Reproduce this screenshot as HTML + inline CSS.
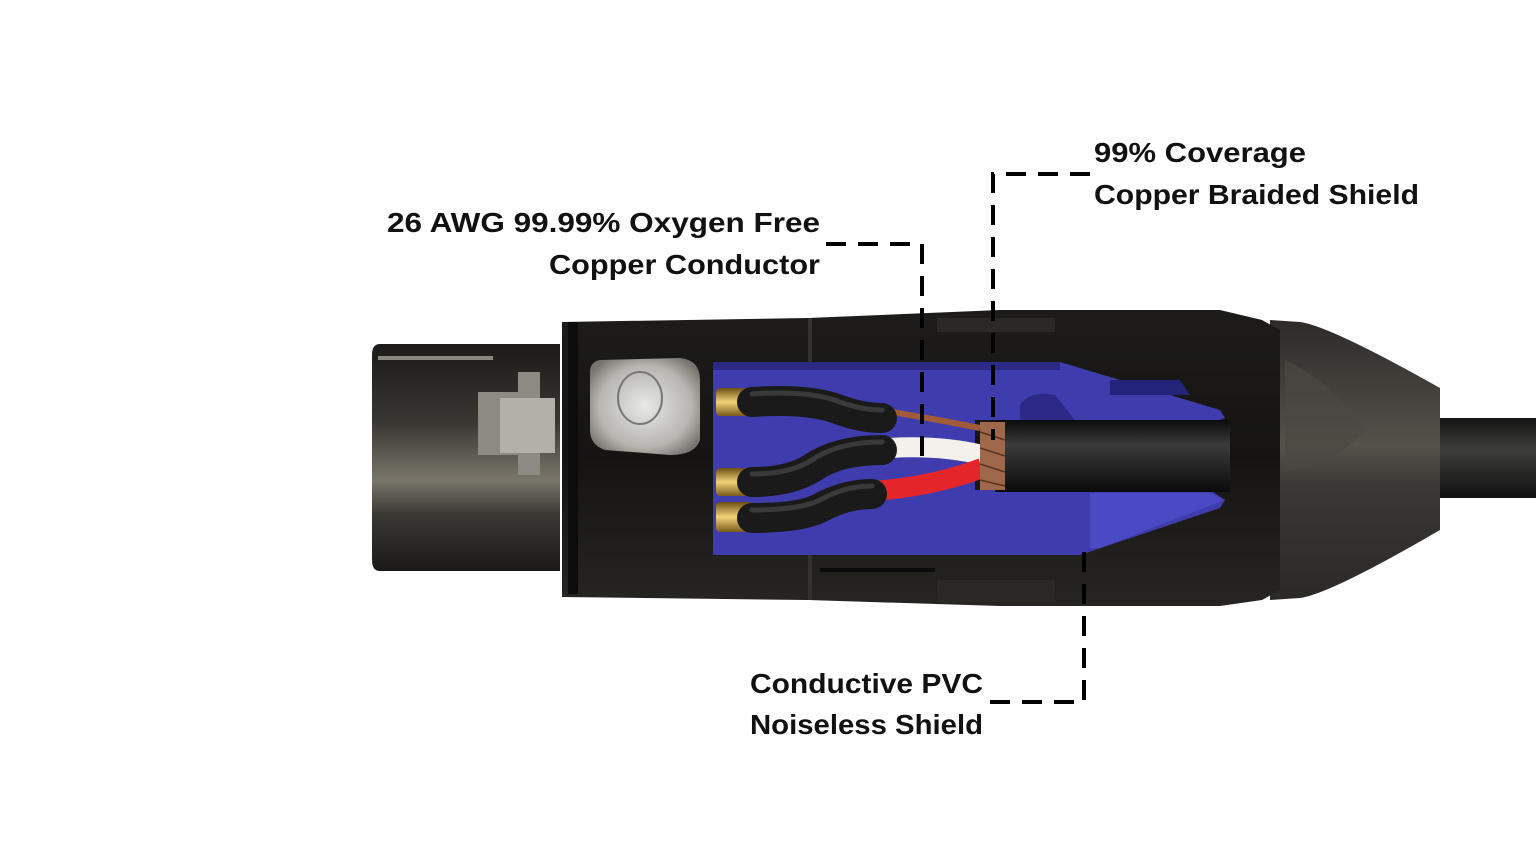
<!DOCTYPE html>
<html><head><meta charset="utf-8"><style>
html,body{margin:0;padding:0;background:#fff;}
svg{display:block}
text{font-family:"Liberation Sans",sans-serif;font-weight:bold;font-size:28px;fill:#111}
</style></head><body>
<svg width="1536" height="864" viewBox="0 0 1536 864">
<defs>
<linearGradient id="plug" x1="0" y1="0" x2="0" y2="1">
<stop offset="0" stop-color="#1c1b19"/><stop offset="0.35" stop-color="#3a3833"/><stop offset="0.6" stop-color="#7a766c"/><stop offset="0.75" stop-color="#3b3934"/><stop offset="1" stop-color="#1a1917"/></linearGradient>
<linearGradient id="body" x1="0" y1="0" x2="0" y2="1">
<stop offset="0" stop-color="#1d1c1a"/><stop offset="0.5" stop-color="#151413"/><stop offset="1" stop-color="#262522"/></linearGradient>
<linearGradient id="cone" x1="0" y1="0" x2="0" y2="1">
<stop offset="0" stop-color="#2d2b28"/><stop offset="0.45" stop-color="#55524b"/><stop offset="0.6" stop-color="#3a3834"/><stop offset="1" stop-color="#2a2926"/></linearGradient>
<linearGradient id="cab" x1="0" y1="0" x2="0" y2="1">
<stop offset="0" stop-color="#151515"/><stop offset="0.4" stop-color="#3d3d3b"/><stop offset="1" stop-color="#111"/></linearGradient>
<linearGradient id="gold" x1="0" y1="0" x2="0" y2="1">
<stop offset="0" stop-color="#6b4e12"/><stop offset="0.5" stop-color="#f2d27a"/><stop offset="1" stop-color="#7a5a18"/></linearGradient>
<radialGradient id="nut" cx="0.5" cy="0.5" r="0.6">
<stop offset="0" stop-color="#e8e8e6"/><stop offset="0.7" stop-color="#b6b5b0"/><stop offset="1" stop-color="#76746f"/></radialGradient>
<linearGradient id="jack" x1="0" y1="0" x2="0" y2="1">
<stop offset="0" stop-color="#0c0c0c"/><stop offset="0.35" stop-color="#3b3b3b"/><stop offset="1" stop-color="#0b0b0b"/></linearGradient>
</defs>

<rect x="1425" y="418" width="111" height="80" fill="url(#cab)"/>
<path d="M1270 320 L1300 322 Q1330 326 1440 388 L1440 530 Q1330 594 1300 598 L1270 600 Z" fill="url(#cone)"/>
<path d="M1285 360 Q1330 380 1365 430 Q1330 470 1285 470 Z" fill="#4c4943" opacity="0.7"/>
<path d="M380 344 L560 344 L560 571 L380 571 Q372 571 372 560 L372 355 Q372 344 380 344 Z" fill="url(#plug)"/>
<rect x="378" y="356" width="115" height="4" fill="#8a877f"/>
<path d="M478 392 L518 392 L518 372 L540 372 L540 475 L518 475 L518 455 L478 455 Z" fill="#8d8a82"/>
<rect x="500" y="398" width="55" height="55" fill="#b3b0a8"/>
<path d="M562 322 L808 318 L1000 310 L1220 310 L1262 320 L1280 330 L1280 590 L1262 600 L1220 606 L1000 606 L808 600 L562 597 Z" fill="url(#body)"/>
<rect x="568" y="322" width="10" height="272" fill="#0c0c0c"/>
<rect x="808" y="318" width="4" height="282" fill="#34322e"/>
<rect x="937" y="318" width="118" height="14" fill="#2a2926"/>
<rect x="937" y="580" width="118" height="22" fill="#2a2926"/>
<g fill="#0b0b0b">
<rect x="820" y="362" width="115" height="4"/>
<rect x="820" y="568" width="115" height="4"/>
</g>
<path d="M713 362 L1060 362 L1220 410 L1225 418 L1220 420 L975 420 L975 490 L1210 490 L1225 500 L1220 508 L1080 555 L713 555 Z" fill="#3f3dae"/>
<path d="M713 362 L1060 362 L1060 370 L713 370 Z" fill="#2c2a86"/>
<path d="M1110 380 L1180 380 L1190 395 L1110 395 Z" fill="#23237a"/>
<path d="M1020 405 Q1030 390 1055 395 L1075 420 L1020 420 Z" fill="#2c2a86"/>
<path d="M1090 493 L1210 493 L1225 500 L1100 548 L1090 548 Z" fill="#4b49c4"/>
<rect x="716" y="388" width="36" height="28" rx="4" fill="url(#gold)"/>
<rect x="716" y="468" width="36" height="28" rx="4" fill="url(#gold)"/>
<rect x="716" y="502" width="36" height="30" rx="4" fill="url(#gold)"/>
<path d="M600 360 L680 358 Q700 360 700 380 L700 440 Q695 455 670 455 L605 450 Q590 445 590 430 L590 372 Q590 362 600 360 Z" fill="url(#nut)"/>
<ellipse cx="640" cy="398" rx="22" ry="26" fill="none" stroke="#777" stroke-width="2"/>
<path d="M995 420 L1230 420 L1230 492 L995 492 Z" fill="url(#jack)"/>
<path d="M880 410 Q930 418 980 428" stroke="#a25b3a" stroke-width="6" fill="none"/>
<path d="M890 448 Q940 445 982 455" stroke="#f4f1ec" stroke-width="20" fill="none"/>
<path d="M860 492 Q930 488 982 468" stroke="#e4262a" stroke-width="20" fill="none"/>
<rect x="980" y="422" width="25" height="68" fill="#a0684a"/>
<g stroke="#5b3220" stroke-width="1.5">
<line x1="980" y1="432" x2="1005" y2="440"/><line x1="980" y1="448" x2="1005" y2="456"/><line x1="980" y1="464" x2="1005" y2="472"/><line x1="980" y1="480" x2="1005" y2="486"/>
</g>
<g fill="none" stroke="#1a1a1a" stroke-width="30" stroke-linecap="round">
<path d="M752 402 Q810 398 840 410 Q862 418 882 418"/>
<path d="M752 482 Q790 482 812 468 Q838 450 882 450"/>
<path d="M752 518 Q800 518 820 508 Q845 494 872 494"/>
</g>
<g fill="none" stroke="#3a3a3a" stroke-width="5" stroke-linecap="round">
<path d="M752 394 Q810 390 840 402 Q862 410 882 410"/>
<path d="M752 474 Q790 474 812 460 Q838 442 882 442"/>
<path d="M752 510 Q800 510 820 500 Q845 486 872 486"/>
</g>

<g stroke="#000" stroke-width="4" fill="none" stroke-dasharray="20 12">
<path d="M826 244 L922 244 L922 460"/>
<path d="M1090 174 L993 174 L993 440"/>
<path d="M990 702 L1084 702 L1084 540"/>
</g>

<text x="820" y="232" text-anchor="end" textLength="433" lengthAdjust="spacingAndGlyphs">26 AWG 99.99% Oxygen Free</text>
<text x="820" y="274" text-anchor="end" textLength="271" lengthAdjust="spacingAndGlyphs">Copper Conductor</text>
<text x="1094" y="162" textLength="212" lengthAdjust="spacingAndGlyphs">99% Coverage</text>
<text x="1094" y="204" textLength="325" lengthAdjust="spacingAndGlyphs">Copper Braided Shield</text>
<text x="983" y="693" text-anchor="end" textLength="233" lengthAdjust="spacingAndGlyphs">Conductive PVC</text>
<text x="983" y="734" text-anchor="end" textLength="233" lengthAdjust="spacingAndGlyphs">Noiseless Shield</text>
</svg>
</body></html>
